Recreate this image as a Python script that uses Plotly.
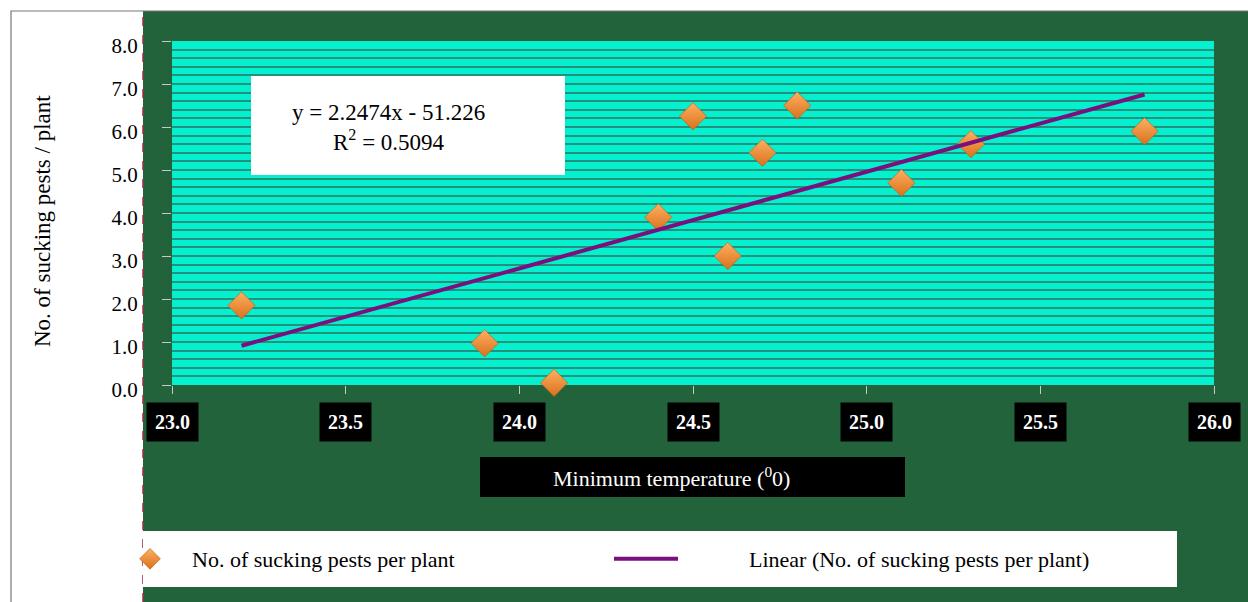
import plotly.graph_objects as go

# ---- data ----
min_temp = [23.2, 23.9, 24.1, 24.4, 24.5, 24.6, 24.7, 24.8, 25.1, 25.3, 25.8]
pests = [1.85, 0.97, 0.05, 3.9, 6.25, 3.0, 5.4, 6.5, 4.7, 5.6, 5.9]
slope = 2.2474
intercept = -51.226
r_squared = 0.5094
x_ticks = [23.0, 23.5, 24.0, 24.5, 25.0, 25.5, 26.0]
x_tick_labels = ["23.0", "23.5", "24.0", "24.5", "25.0", "25.5", "26.0"]
y_ticks = [0, 1, 2, 3, 4, 5, 6, 7, 8]
y_tick_labels = ["0.0", "1.0", "2.0", "3.0", "4.0", "5.0", "6.0", "7.0", "8.0"]
series_name = "No. of sucking pests per plant"
trend_name = "Linear (No. of sucking pests per plant)"
x_title = "Minimum temperature (<sup>0</sup>0)"
y_title = "No. of sucking pests / plant"

W, H = 1248, 602
L, R, T, B = 172, 1214, 41, 385
PW, PH = R - L, B - T


def px(x):
    return (x - L) / PW


def py(y):
    return (B - y) / PH


SERIF = "Liberation Serif, Times New Roman, serif"
NB = "\u00a0"

trend_x = [min(min_temp), max(min_temp)]
trend_y = [slope * v + intercept for v in trend_x]

fig = go.Figure()
fig.add_trace(go.Scatter(
    x=min_temp, y=pests, mode="markers", name=NB * 4 + series_name,
    marker=dict(symbol="diamond", size=21, color="#FDB062",
                gradient=dict(type="vertical", color="#D9711C"),
                line=dict(width=0.6, color="#B85C10")),
    legend="legend", cliponaxis=False,
))
fig.add_trace(go.Scatter(
    x=trend_x, y=trend_y, mode="lines", name=NB * 12 + trend_name,
    line=dict(color="#7A0F7E", width=4),
    legend="legend2",
))

shapes = []
# white page areas (left strip and top strip)
shapes.append(dict(type="rect", xref="paper", yref="paper", layer="below",
                   x0=px(-10), x1=px(143), y0=py(620), y1=py(-10),
                   fillcolor="white", line=dict(width=0)))
shapes.append(dict(type="rect", xref="paper", yref="paper", layer="below",
                   x0=px(-10), x1=px(1260), y0=py(11), y1=py(-10),
                   fillcolor="white", line=dict(width=0)))
# grey frame
shapes.append(dict(type="rect", xref="paper", yref="paper", layer="below",
                   x0=px(11), x1=px(1300), y0=py(700), y1=py(11),
                   fillcolor="rgba(0,0,0,0)", line=dict(width=1.2, color="#777777")))
# dashed red edge
shapes.append(dict(type="line", xref="paper", yref="paper", layer="below",
                   x0=px(143), x1=px(143), y0=py(602), y1=py(11),
                   line=dict(width=1.5, color="#9A3040", dash="dash")))
# legend white box
shapes.append(dict(type="rect", xref="paper", yref="paper", layer="below",
                   x0=px(143), x1=px(1177), y0=py(587), y1=py(531),
                   fillcolor="white", line=dict(width=0)))
# x-title black box
shapes.append(dict(type="rect", xref="paper", yref="paper", layer="below",
                   x0=px(480), x1=px(905), y0=py(497), y1=py(457),
                   fillcolor="black", line=dict(width=0)))
# equation box
shapes.append(dict(type="rect", xref="paper", yref="paper", layer="above",
                   x0=px(251), x1=px(565), y0=py(175), y1=py(76),
                   fillcolor="white", line=dict(width=0)))

annotations = []
for v, lab in zip(x_ticks, x_tick_labels):
    annotations.append(dict(x=v, xref="x", y=py(422), yref="paper",
                            xanchor="center", yanchor="middle",
                            text="<b>" + lab + "</b>", showarrow=False,
                            bgcolor="black", borderpad=8,
                            font=dict(family=SERIF, size=20, color="white")))
annotations.append(dict(x=px(671), y=py(477), xref="paper", yref="paper",
                        xanchor="center", yanchor="middle",
                        text=x_title, showarrow=False,
                        font=dict(family=SERIF, size=22, color="white")))
annotations.append(dict(x=px(42), y=py(221), xref="paper", yref="paper",
                        xanchor="center", yanchor="middle",
                        text=y_title, showarrow=False,
                        textangle=-90,
                        font=dict(family=SERIF, size=23, color="black")))
annotations.append(dict(x=px(388), y=py(127), xref="paper", yref="paper",
                        xanchor="center", yanchor="middle",
                        text="y = %.4fx - %.3f<br>R<sup>2</sup> = %.4f" % (slope, -intercept, r_squared),
                        showarrow=False, align="center",
                        font=dict(family=SERIF, size=23, color="black")))

fig.update_layout(
    width=W, height=H,
    margin=dict(l=L, r=W - R, t=T, b=H - B),
    paper_bgcolor="#22633B",
    plot_bgcolor="#05F0CE",
    shapes=shapes,
    annotations=annotations,
    showlegend=True,
    legend=dict(orientation="h", x=px(130), xanchor="left", y=py(559), yanchor="middle",
                bgcolor="rgba(0,0,0,0)", font=dict(family=SERIF, size=22, color="black")),
    legend2=dict(orientation="h", x=px(609), xanchor="left", y=py(559), yanchor="middle",
                 bgcolor="rgba(0,0,0,0)", itemwidth=64,
                 font=dict(family=SERIF, size=22, color="black")),
    xaxis=dict(range=[23, 26], tickvals=x_ticks, showticklabels=False,
               ticks="outside", ticklen=8, tickcolor="#C8C8C8", tickwidth=1,
               showgrid=False, zeroline=False, showline=False),
    yaxis=dict(range=[0, 8], tickvals=y_ticks, ticktext=y_tick_labels,
               ticks="outside", ticklen=9, tickcolor="#C8C8C8", tickwidth=1,
               ticklabelshift=5, ticklabelstandoff=20,
               tickfont=dict(family=SERIF, size=21, color="black"),
               showgrid=True, gridcolor="#24917D", gridwidth=1.6,
               minor=dict(dtick=0.2, showgrid=True, gridcolor="#24917D", gridwidth=1.6),
               zeroline=False, showline=False),
)

fig.write_html("out.html")
